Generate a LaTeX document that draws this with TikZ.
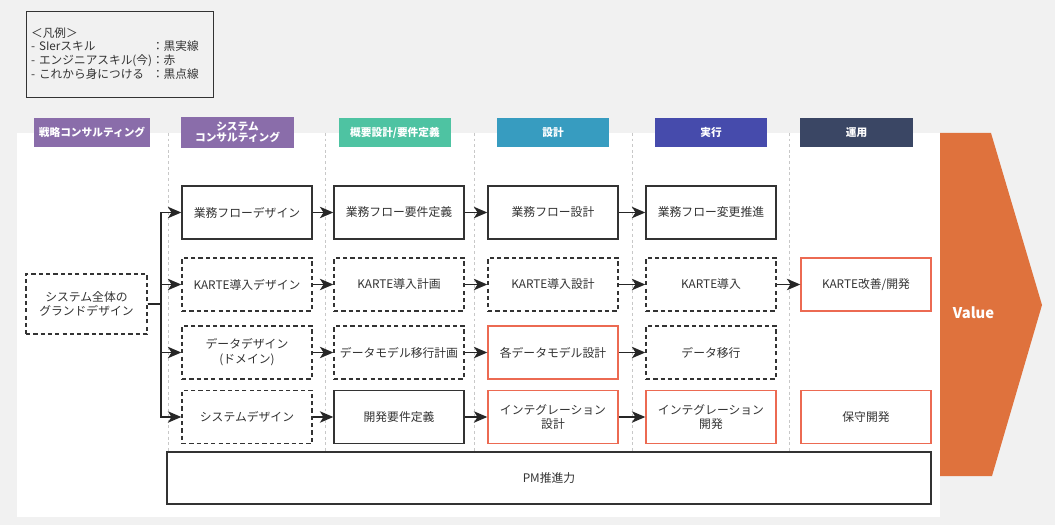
\documentclass[tikz,border=0pt]{standalone}
\usepackage{fontspec}
\setmainfont{Noto Sans CJK JP}
\usepackage{xcolor}
\usepackage{tikz}
\usetikzlibrary{arrows.meta, positioning}
\definecolor{pagebg}{HTML}{F1F1F1}
\definecolor{boxline}{HTML}{333333}
\definecolor{redline}{HTML}{EC6A52}
\definecolor{sepline}{HTML}{C8C8C8}
\definecolor{purplehd}{HTML}{8A6DAA}
\definecolor{greenhd}{HTML}{4EC3A2}
\definecolor{bluehd}{HTML}{379CC0}
\definecolor{indigohd}{HTML}{464BAC}
\definecolor{navyhd}{HTML}{3A4664}
\definecolor{valueorange}{HTML}{DF723D}

\begin{document}
\begin{tikzpicture}[x=0.025cm, y=-0.025cm,
  box/.style={rectangle, draw=boxline, fill=white, line width=0.9pt, minimum width=3.25cm,
              minimum height=1.325cm, align=center, text=boxline,
              font=\fontsize{8.4}{10.5}\selectfont},
  dbox/.style={box, dash pattern=on 3pt off 2.2pt},
  rbox/.style={box, draw=redline},
  hdr/.style={rectangle, minimum width=2.8cm, minimum height=0.725cm, align=center,
              text=white, font=\fontsize{7.6}{8}\selectfont\bfseries},
  arr/.style={-{Stealth[length=9.5pt, width=8pt, inset=2.5pt]}, line width=1.3pt, draw=black!85},
  sep/.style={sepline, line width=0.5pt, dash pattern=on 2pt off 2pt}
]
  \fill[pagebg] (0,0) rectangle (1055,525);
  \fill[white] (17,133) rectangle (940,517);
  \foreach \sx in {168,325,474,632,789}
    \draw[sep] (\sx,133) -- (\sx,473);

  \node[draw=boxline, fill=pagebg, line width=0.9pt, anchor=north west, minimum width=4.675cm,
        minimum height=2.15cm, text width=4.45cm, inner xsep=2.2pt, align=left,
        font=\fontsize{8.3}{9.2}\selectfont, text=boxline] (legend) at (26,11)
    {\begin{tabular}{@{}l@{}l@{}}
       \multicolumn{2}{@{}l@{}}{＜凡例＞}\\
       - SIerスキル & ：黒実線\\
       - エンジニアスキル(今) & ：赤\\
       - これから身につける & ：黒点線
     \end{tabular}};

  \node[hdr, fill=purplehd] (h1) at (92,132.5)    {戦略コンサルティング};
  \node[hdr, fill=purplehd] (h2) at (237.5,132.5) {システム\\コンサルティング};
  \node[hdr, fill=greenhd]  (h3) at (395,132.5)   {概要設計/要件定義};
  \node[hdr, fill=bluehd]   (h4) at (553,132.5)   {設計};
  \node[hdr, fill=indigohd] (h5) at (711,132.5)   {実行};
  \node[hdr, fill=navyhd]   (h6) at (856.5,132.5) {運用};

  \node[dbox, minimum width=3.025cm, minimum height=1.5cm] (gd) at (86.5,304)
    {システム全体の\\グランドデザイン};

  \node[box]  (fd) at (247,212.5) {業務フローデザイン};
  \node[box]  (fr) at (399,212.5) {業務フロー要件定義};
  \node[box]  (fs) at (553,212.5) {業務フロー設計};
  \node[box]  (fp) at (711,212.5) {業務フロー変更推進};

  \node[dbox] (kd) at (247,284.5) {KARTE導入デザイン};
  \node[dbox] (kp) at (399,284.5) {KARTE導入計画};
  \node[dbox] (ks) at (553,284.5) {KARTE導入設計};
  \node[dbox] (ki) at (711,284.5) {KARTE導入};
  \node[rbox] (kk) at (866,284.5) {KARTE改善/開発};

  \node[dbox] (dd) at (247,352.5) {データデザイン\\(ドメイン)};
  \node[dbox] (dp) at (399,352.5) {データモデル移行計画};
  \node[rbox] (ds) at (553,352.5) {各データモデル設計};
  \node[dbox] (dm) at (711,352.5) {データ移行};

  \node[dbox] (sd) at (247,417) {システムデザイン};
  \node[box]  (sr) at (399,417) {開発要件定義};
  \node[rbox] (is) at (553,417) {インテグレーション\\設計};
  \node[rbox] (id) at (711,417) {インテグレーション\\開発};
  \node[rbox] (hs) at (866,417) {保守開発};

  \node[box, minimum width=19.1cm, minimum height=1.3cm] (pm) at (549,478) {PM推進力};

  \fill[valueorange] (940,133) -- (991,133) -- (1042,305) -- (992,476) -- (940,476) -- cycle;
  \node[anchor=west, text=white, font=\fontsize{10.5}{12}\selectfont\bfseries] (val) at (948,313) {Value};

  \coordinate (bus) at (161,304);
  \draw[arr] (gd.east) -- (bus) |- (fd.west);
  \draw[arr] (gd.east) -- (bus) |- (kd.west);
  \draw[arr] (gd.east) -- (bus) |- (dd.west);
  \draw[arr] (gd.east) -- (bus) |- (sd.west);

  \draw[arr] (fd) -- (fr);
  \draw[arr] (fr) -- (fs);
  \draw[arr] (fs) -- (fp);
  \draw[arr] (kd) -- (kp);
  \draw[arr] (kp) -- (ks);
  \draw[arr] (ks) -- (ki);
  \draw[arr] (ki) -- (kk);
  \draw[arr] (dd) -- (dp);
  \draw[arr] (dp) -- (ds);
  \draw[arr] (ds) -- (dm);
  \draw[arr] (sd) -- (sr);
  \draw[arr] (sr) -- (is);
  \draw[arr] (is) -- (id);
\end{tikzpicture}
\end{document}
